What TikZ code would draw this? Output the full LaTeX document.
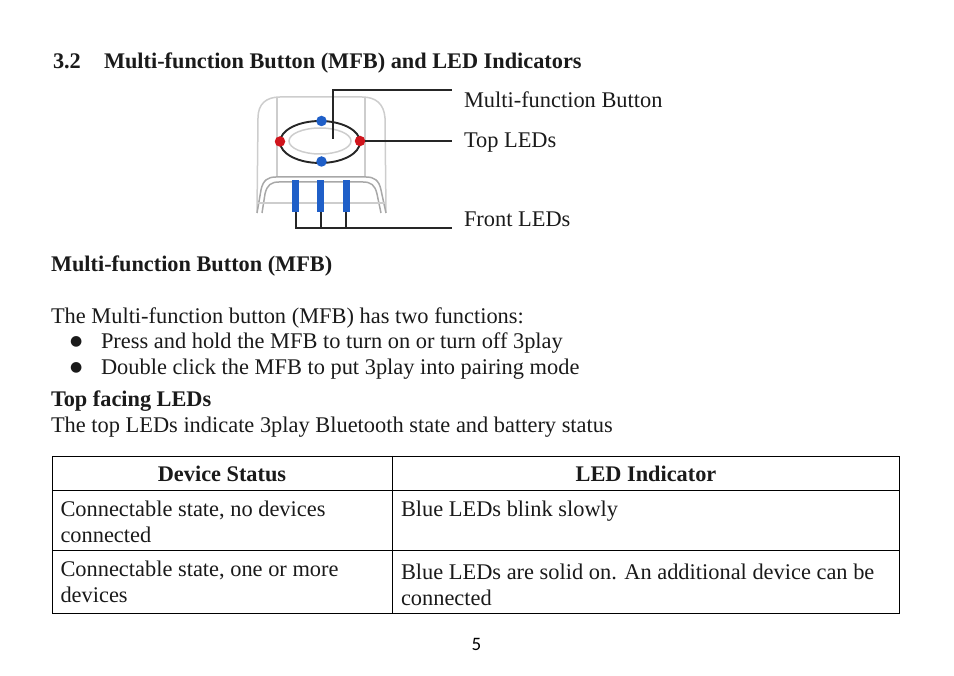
\documentclass[tikz,border=0pt]{standalone}
\usepackage{fontspec}
\setmainfont{Liberation Serif}
\newfontfamily\pagefont{Carlito}
\newfontfamily\symfont{DejaVu Sans}
\definecolor{ledblue}{HTML}{1F5FC8}
\definecolor{ledred}{HTML}{D0141C}
\definecolor{shell}{HTML}{CDCDCD}
\definecolor{capgray}{HTML}{A8A8A8}
\definecolor{ink}{HTML}{1A1A1A}
\tikzset{
  txt/.style={anchor=base west,inner sep=0pt,outer sep=0pt,font=\fontsize{22.4pt}{24pt}\selectfont,text=ink},
  bold/.style={txt,font=\fontsize{22.3pt}{24pt}\selectfont\bfseries},
  head/.style={bold,anchor=base},
  bul/.style={txt,font=\fontsize{14pt}{16pt}\symfont},
  leader/.style={draw=black!85,line width=1.9pt},
  outline/.style={draw=shell,line width=1.5pt},
  capline/.style={draw=capgray,line width=1.5pt},
  grid/.style={draw=black,line width=0.9pt},
  bluedot/.style={circle,fill=ledblue,inner sep=0pt,minimum size=10.5pt},
  reddot/.style={circle,fill=ledred,inner sep=0pt,minimum size=10.5pt},
  barled/.style={fill=ledblue,draw=none,inner sep=0pt,minimum width=6.5pt,minimum height=32pt},
}
\begin{document}
\begin{tikzpicture}[x=1pt,y=-1pt]
\useasboundingbox (0,0) rectangle (954,676);
% device
\draw[outline] (257,213) -- (258,118) .. controls (258,104) and (266,97) .. (280,97) -- (362,97) .. controls (376,97) and (384,104) .. (385,118) -- (386,213);
\draw[outline] (277,97) -- (277,177) (365,97) -- (365,177);
\draw[capline] (257,213) -- (261,190) .. controls (263,180) and (268,177) .. (276,177) -- (366,177) .. controls (374,177) and (379,180) .. (381,190) -- (386,213);
\draw[capline] (262,213) -- (265,194) .. controls (267,185) and (271,182) .. (279,182) -- (363,182) .. controls (371,182) and (375,185) .. (377,194) -- (381,213);
\draw[outline] (257,203) -- (386,203);
\draw[outline] (320,141) ellipse [x radius=31,y radius=13];
\draw[draw=black!85,line width=1.9pt] (320,142) ellipse [x radius=40,y radius=21];
\node[barled] (barA) at (295.7,196) {};
\node[barled] (barB) at (320.7,196) {};
\node[barled] (barC) at (346.3,196) {};
\node[bluedot] (ledT) at (321.5,121) {};
\node[bluedot] (ledB) at (321.5,161.5) {};
\node[reddot] (ledL) at (280,141.5) {};
\node[reddot] (ledR) at (360,141) {};
% labels
\node[txt] (lblMFB) at (464,108) {Multi-function Button};
\node[txt] (lblTop) at (464,148) {Top LEDs};
\node[txt] (lblFront) at (464,227) {Front LEDs};
% leaders
\coordinate (btn) at (333,139);
\coordinate (endMFB) at (452,90);
\coordinate (endTop) at (452,141);
\coordinate (endFront) at (452,228);
\draw[leader] (btn) |- (endMFB);
\draw[leader] (ledR) -- (endTop);
\draw[leader] (barA.south) |- (endFront);
\draw[leader] (barB.south) -- (barB.south |- endFront);
\draw[leader] (barC.south) -- (barC.south |- endFront);
% text
\node[bold] (sec) at (53,69) {3.2};
\node[bold] (sect) at (104,69) {Multi-function Button (MFB) and LED Indicators};
\node[bold] (h1) at (51,272) {Multi-function Button (MFB)};
\node[txt] (p1) at (51,324) {The Multi-function button (MFB) has two functions:};
\node[bul] (b1) at (70,346) {●};
\node[txt] (l1) at (101,349) {Press and hold the MFB to turn on or turn off 3play};
\node[bul] (b2) at (70,372) {●};
\node[txt] (l2) at (101,375) {Double click the MFB to put 3play into pairing mode};
\node[bold] (h2) at (51,407) {Top facing LEDs};
\node[txt] (p2) at (51,432) {The top LEDs indicate 3play Bluetooth state and battery status};
% table
\draw[grid] (52,456) rectangle (899,613);
\draw[grid] (392,456) -- (392,613);
\draw[grid] (52,490) -- (899,490);
\draw[grid] (52,550) -- (899,550);
\node[head] (th1) at (222,482) {Device Status};
\node[head] (th2) at (646,482) {LED Indicator};
\node[txt] (c1a) at (60.5,516) {Connectable state, no devices};
\node[txt] (c1b) at (60.5,542) {connected};
\node[txt] (c2) at (401,516) {Blue LEDs blink slowly};
\node[txt] (c3a) at (60.5,576) {Connectable state, one or more};
\node[txt] (c3b) at (60.5,602) {devices};
\node[txt] (c4a) at (401,579) {Blue LEDs are solid on. An additional device can be};
\node[txt] (c4b) at (401,605) {connected};
\node[anchor=base,inner sep=0pt,font=\fontsize{19pt}{21pt}\pagefont] (pg) at (476.5,650) {5};
\end{tikzpicture}
\end{document}
